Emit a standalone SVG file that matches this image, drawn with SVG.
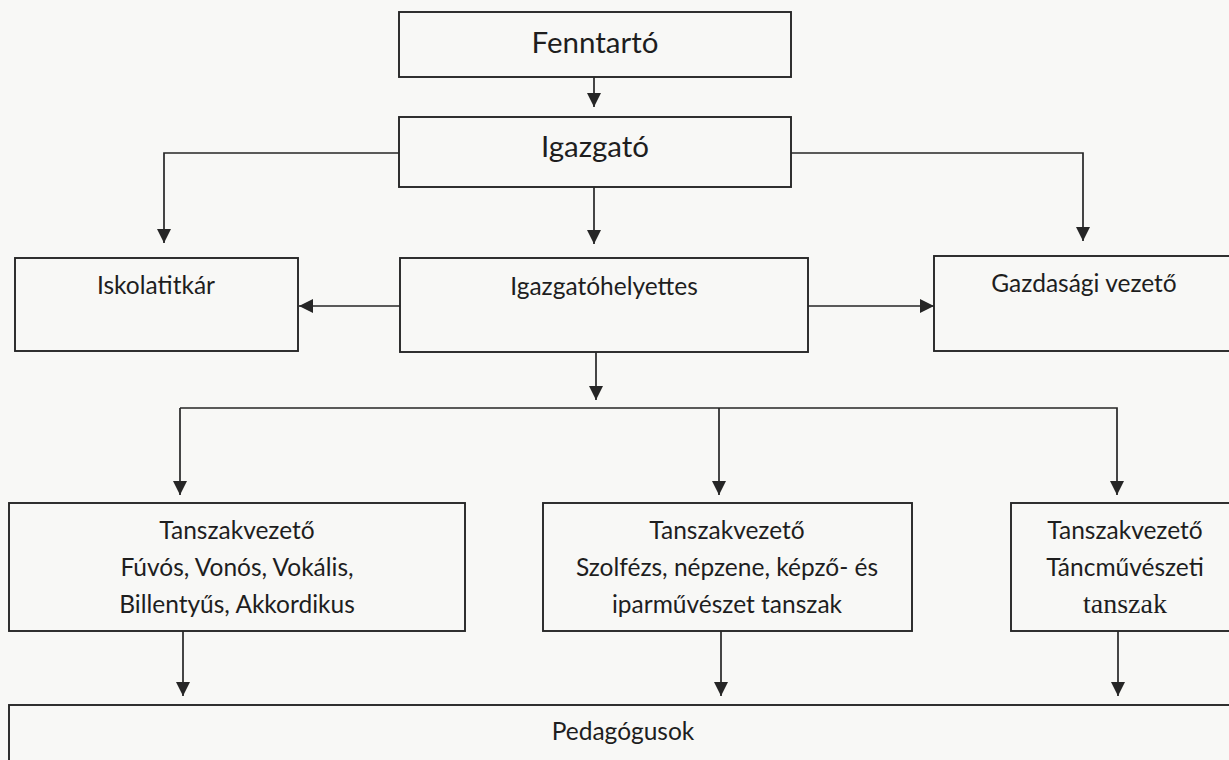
<svg xmlns="http://www.w3.org/2000/svg" width="1229" height="760" viewBox="0 0 1229 760">
  <style>
    .box { fill: none; stroke: #262626; stroke-width: 1.9; }
    .conn { fill: none; stroke: #262626; stroke-width: 1.7; }
    .t { font-family: Lato, "Open Sans", "Liberation Sans", sans-serif; fill: #1e1e1e; text-anchor: middle; }
    .big { font-size: 29.5px; }
    .mid { font-size: 24.5px; }
    .serif { font-family: "Liberation Serif", serif; font-size: 28px; }
  </style>
  <defs>
    <marker id="arr" markerUnits="userSpaceOnUse" markerWidth="15" markerHeight="15" refX="14" refY="7" orient="auto">
      <path d="M0,0 L14,7 L0,14 z" fill="#262626"/>
    </marker>
  </defs>
  <rect x="0" y="0" width="1229" height="760" fill="#f8f8f6"/>

  <g id="connectors">
    <line class="conn" x1="594" y1="77" x2="594" y2="107" marker-end="url(#arr)"/>
    <polyline class="conn" points="399,153 164,153 164,243" marker-end="url(#arr)"/>
    <polyline class="conn" points="791,153 1083,153 1083,241" marker-end="url(#arr)"/>
    <line class="conn" x1="594" y1="187" x2="594" y2="244" marker-end="url(#arr)"/>
    <line class="conn" x1="400" y1="306" x2="299" y2="306" marker-end="url(#arr)"/>
    <line class="conn" x1="808" y1="306" x2="934" y2="306" marker-end="url(#arr)"/>
    <line class="conn" x1="596" y1="352" x2="596" y2="400" marker-end="url(#arr)"/>
    <polyline class="conn" points="180,408 1117,408 1117,495" marker-end="url(#arr)"/>
    <line class="conn" x1="180" y1="408" x2="180" y2="495" marker-end="url(#arr)"/>
    <line class="conn" x1="719" y1="408" x2="719" y2="495" marker-end="url(#arr)"/>
    <line class="conn" x1="183" y1="631" x2="183" y2="696" marker-end="url(#arr)"/>
    <line class="conn" x1="721" y1="631" x2="721" y2="696" marker-end="url(#arr)"/>
    <line class="conn" x1="1118" y1="631" x2="1118" y2="696" marker-end="url(#arr)"/>
  </g>

  <g id="fenntarto">
    <rect class="box" x="399" y="12" width="392" height="65"/>
    <text class="t big" x="595" y="53">Fenntartó</text>
  </g>
  <g id="igazgato">
    <rect class="box" x="399" y="117" width="392" height="70"/>
    <text class="t big" x="595" y="157">Igazgató</text>
  </g>
  <g id="iskolatitkar">
    <rect class="box" x="15" y="258" width="283" height="93"/>
    <text class="t mid" x="156" y="294">Iskolatitkár</text>
  </g>
  <g id="igazgatohelyettes">
    <rect class="box" x="400" y="258" width="408" height="94"/>
    <text class="t mid" x="604" y="295">Igazgatóhelyettes</text>
  </g>
  <g id="gazdasagi">
    <rect class="box" x="934" y="256" width="310" height="95"/>
    <text class="t mid" x="1084" y="292">Gazdasági vezető</text>
  </g>
  <g id="tanszak1">
    <rect class="box" x="9" y="503" width="456" height="128"/>
    <text class="t mid" x="237" y="539">Tanszakvezető</text>
    <text class="t mid" x="237" y="576">Fúvós, Vonós, Vokális,</text>
    <text class="t mid" x="237" y="613">Billentyűs, Akkordikus</text>
  </g>
  <g id="tanszak2">
    <rect class="box" x="543" y="503" width="369" height="128"/>
    <text class="t mid" x="727" y="539">Tanszakvezető</text>
    <text class="t mid" x="727" y="576">Szolfézs, népzene, képző- és</text>
    <text class="t mid" x="727" y="613">iparművészet tanszak</text>
  </g>
  <g id="tanszak3">
    <rect class="box" x="1011" y="503" width="240" height="128"/>
    <text class="t mid" x="1125" y="539">Tanszakvezető</text>
    <text class="t mid" x="1125" y="576">Táncművészeti</text>
    <text class="t serif" x="1125" y="613">tanszak</text>
  </g>
  <g id="pedagogusok">
    <rect class="box" x="9" y="705" width="1240" height="80"/>
    <text class="t mid" x="623" y="740">Pedagógusok</text>
  </g>
</svg>
